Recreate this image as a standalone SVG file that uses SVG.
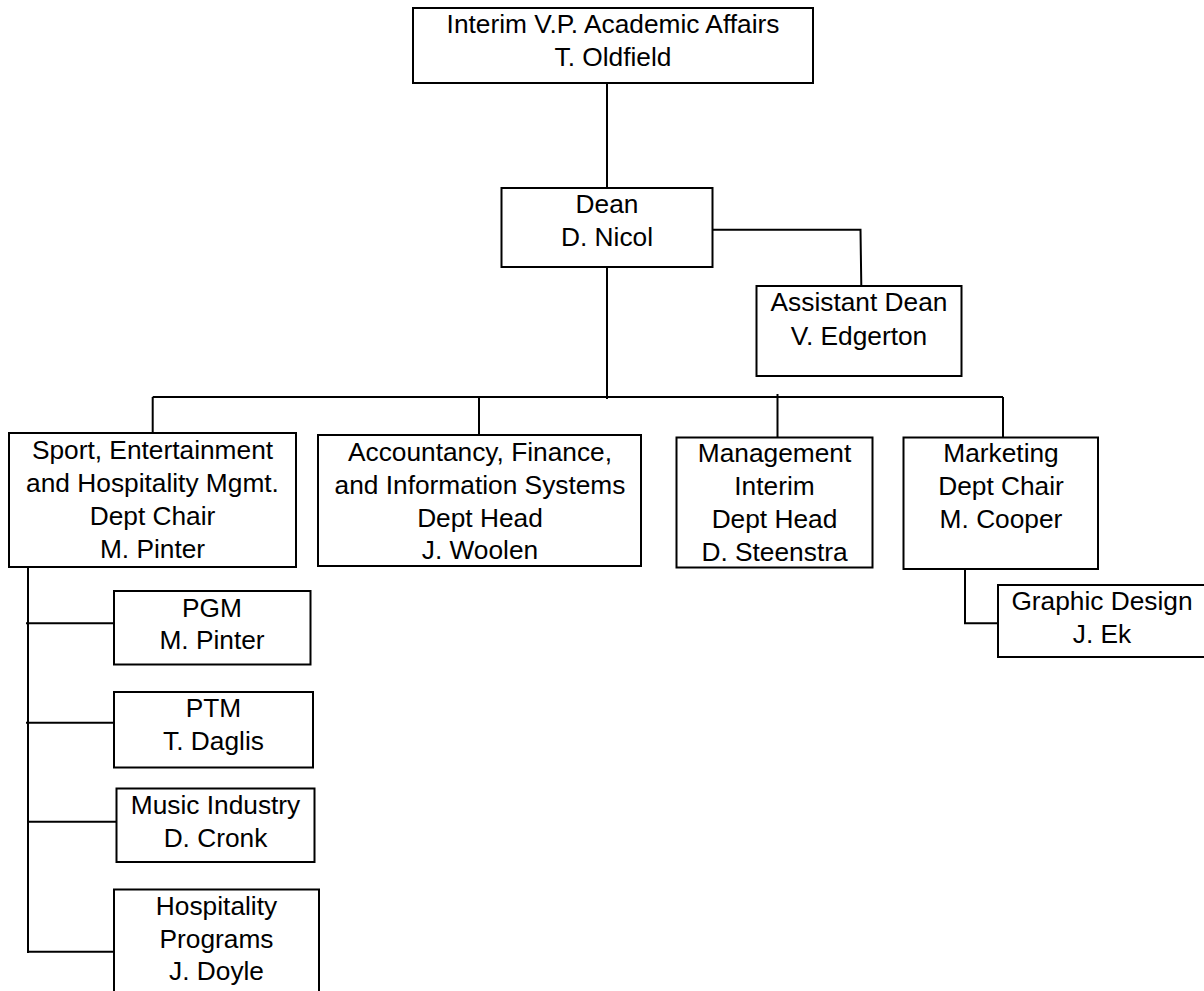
<svg xmlns="http://www.w3.org/2000/svg" width="1204" height="991" viewBox="0 0 1204 991">
<style>
.box{fill:#fff;stroke:#000;stroke-width:2}
.lbl{font-family:"Liberation Sans",Arial,sans-serif;font-size:26.3px;fill:#000;text-anchor:middle}
.conn{fill:none;stroke:#000;stroke-width:2}
</style>
<rect width="1204" height="991" fill="#fff"/>
<g id="connectors" class="conn">
<path d="M607,83 V188"/>
<path d="M712.5,229.7 H860.5 L861.3,286"/>
<path d="M607,267 V399"/>
<path d="M152.7,397 H1003"/>
<path d="M152.7,397 V433"/>
<path d="M479,397 V435"/>
<path d="M777.5,394 V437.5"/>
<path d="M1003,397 V437.5"/>
<path d="M28,567 V953"/>
<path d="M26,623.3 H114"/>
<path d="M26,722.7 H114"/>
<path d="M28,821.7 H116.5"/>
<path d="M28,951.7 H114"/>
<path d="M965,569 V623.3 H998"/>
</g>
<g id="vp">
<rect class="box" x="413" y="8" width="400" height="75"/>
<text class="lbl" x="613" y="33">Interim V.P. Academic Affairs</text>
<text class="lbl" x="613" y="66">T. Oldfield</text>
</g>
<g id="dean">
<rect class="box" x="501.5" y="188" width="211" height="79"/>
<text class="lbl" x="607" y="213">Dean</text>
<text class="lbl" x="607" y="246">D. Nicol</text>
</g>
<g id="asst-dean">
<rect class="box" x="756.5" y="286" width="205" height="90"/>
<text class="lbl" x="859" y="311">Assistant Dean</text>
<text class="lbl" x="859" y="345">V. Edgerton</text>
</g>
<g id="sport">
<rect class="box" x="9" y="433" width="287" height="134"/>
<text class="lbl" x="152.5" y="459">Sport, Entertainment</text>
<text class="lbl" x="152.5" y="492">and Hospitality Mgmt.</text>
<text class="lbl" x="152.5" y="525">Dept Chair</text>
<text class="lbl" x="152.5" y="558">M. Pinter</text>
</g>
<g id="accountancy">
<rect class="box" x="318" y="435" width="323" height="131"/>
<text class="lbl" x="480" y="461">Accountancy, Finance,</text>
<text class="lbl" x="480" y="494">and Information Systems</text>
<text class="lbl" x="480" y="527">Dept Head</text>
<text class="lbl" x="480" y="559">J. Woolen</text>
</g>
<g id="management">
<rect class="box" x="676.5" y="437.5" width="196" height="130"/>
<text class="lbl" x="774.5" y="462">Management</text>
<text class="lbl" x="774.5" y="495">Interim</text>
<text class="lbl" x="774.5" y="528">Dept Head</text>
<text class="lbl" x="774.5" y="561">D. Steenstra</text>
</g>
<g id="marketing">
<rect class="box" x="903.5" y="437.5" width="194.5" height="131.5"/>
<text class="lbl" x="1001" y="462">Marketing</text>
<text class="lbl" x="1001" y="495">Dept Chair</text>
<text class="lbl" x="1001" y="528">M. Cooper</text>
</g>
<g id="graphic-design">
<rect class="box" x="998" y="585" width="208" height="72"/>
<text class="lbl" x="1102" y="610">Graphic Design</text>
<text class="lbl" x="1102" y="643">J. Ek</text>
</g>
<g id="pgm">
<rect class="box" x="114" y="591" width="196.5" height="73.5"/>
<text class="lbl" x="212" y="617">PGM</text>
<text class="lbl" x="212" y="649">M. Pinter</text>
</g>
<g id="ptm">
<rect class="box" x="114" y="692" width="199" height="75.5"/>
<text class="lbl" x="213.5" y="717">PTM</text>
<text class="lbl" x="213.5" y="750">T. Daglis</text>
</g>
<g id="music">
<rect class="box" x="116.5" y="788.5" width="198" height="73.5"/>
<text class="lbl" x="215.5" y="814">Music Industry</text>
<text class="lbl" x="215.5" y="847">D. Cronk</text>
</g>
<g id="hospitality">
<rect class="box" x="114" y="889.5" width="205" height="110"/>
<text class="lbl" x="216.5" y="915">Hospitality</text>
<text class="lbl" x="216.5" y="948">Programs</text>
<text class="lbl" x="216.5" y="980">J. Doyle</text>
</g>
</svg>
